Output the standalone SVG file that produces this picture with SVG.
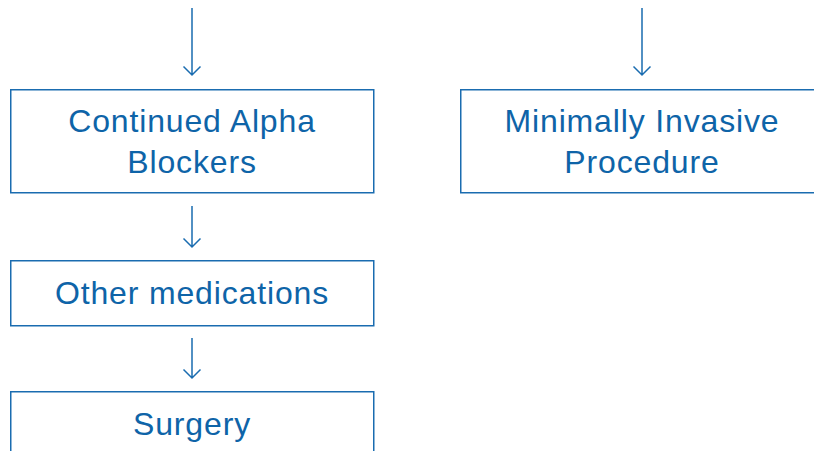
<svg xmlns="http://www.w3.org/2000/svg" width="814" height="451" viewBox="0 0 814 451">
<style>
.box{fill:#ffffff;stroke:#1a6cb0;stroke-width:1.5}
.lbl{font-family:"Liberation Sans",Arial,sans-serif;font-size:32px;letter-spacing:0.85px;fill:#0e64a8;text-anchor:middle}
.con{stroke:#1a6cb0;stroke-width:1.5;fill:none}
</style>
<rect width="814" height="451" fill="#ffffff"/>
<g id="connectors">
<path class="con" d="M192 8V75M183.5 66.5L192 75L200.5 66.5"/>
<path class="con" d="M642 8V75M633.5 66.5L642 75L650.5 66.5"/>
<path class="con" d="M192 206V247M183.5 238.5L192 247L200.5 238.5"/>
<path class="con" d="M192 338V378M183.5 369.5L192 378L200.5 369.5"/>
</g>
<g id="node-alpha">
<rect class="box" x="10.75" y="89.75" width="363" height="103"/>
<text class="lbl" x="192" y="132">Continued Alpha</text>
<text class="lbl" x="192" y="173">Blockers</text>
</g>
<g id="node-minimally">
<rect class="box" x="460.75" y="89.75" width="363" height="103"/>
<text class="lbl" x="642" y="132">Minimally Invasive</text>
<text class="lbl" x="642" y="173">Procedure</text>
</g>
<g id="node-other">
<rect class="box" x="10.75" y="260.75" width="363" height="65"/>
<text class="lbl" x="192" y="304">Other medications</text>
</g>
<g id="node-surgery">
<rect class="box" x="10.75" y="391.75" width="363" height="80"/>
<text class="lbl" x="192" y="435">Surgery</text>
</g>
</svg>
